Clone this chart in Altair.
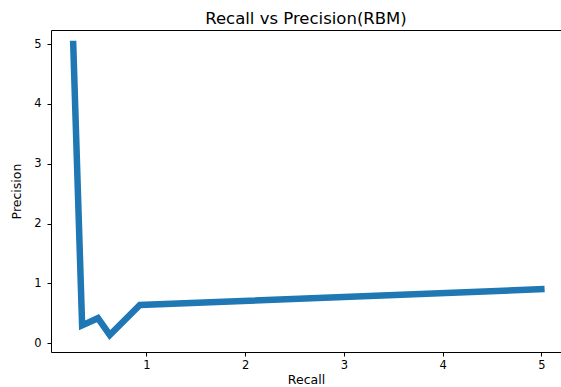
import altair as alt
import pandas as pd

# Recall / precision pairs for the RBM model
recall = [0.26, 0.35, 0.51, 0.63, 0.935, 5.0]
precision = [5.0, 0.30, 0.42, 0.14, 0.64, 0.905]
order = list(range(len(recall)))

df = pd.DataFrame({"recall": recall, "precision": precision, "order": order})

FONT = "DejaVu Sans"

x_scale = alt.Scale(domain=[0.035, 5.199], nice=False, zero=False)
y_scale = alt.Scale(domain=[-0.145, 5.234], nice=False, zero=False)

line = alt.Chart(df).mark_line(
    color="#1f77b4", strokeWidth=6.5, strokeCap="square", clip=True
).encode(
    x=alt.X("recall:Q", scale=x_scale,
            axis=alt.Axis(title="Recall", values=[1, 2, 3, 4, 5], format="d",
                          grid=False, orient="bottom", labelPadding=3,
                          titlePadding=3)),
    y=alt.Y("precision:Q", scale=y_scale,
            axis=alt.Axis(title="Precision", values=[0, 1, 2, 3, 4, 5], format="d",
                          grid=False, labelPadding=6, titlePadding=10)),
    order="order:O",
)

# top frame line drawn as a bare axis
top = alt.Chart(df).mark_line(opacity=0).encode(
    x=alt.X("recall:Q", scale=x_scale,
            axis=alt.Axis(title=None, orient="top", labels=False, ticks=False,
                          grid=False, domain=True)),
    y=alt.Y("precision:Q", scale=y_scale),
)

chart = alt.layer(line, top).properties(
    width=510,
    height=322,
    title=alt.TitleParams("Recall vs Precision(RBM)", font=FONT, fontSize=16.5,
                          fontWeight="normal", color="black", offset=3),
    autosize=alt.AutoSizeParams(type="none"),
    padding={"left": 51, "top": 30, "right": 0, "bottom": 35},
).configure_view(
    stroke=None
).configure_axis(
    domainColor="black",
    domainWidth=1,
    tickColor="black",
    tickSize=4,
    tickWidth=1,
    labelFont=FONT,
    labelFontSize=11.5,
    labelColor="black",
    titleFont=FONT,
    titleFontSize=12.5,
    titleFontWeight="normal",
    titleColor="black",
)

chart.save("out.html", embed_options={"renderer": "svg", "actions": False})
